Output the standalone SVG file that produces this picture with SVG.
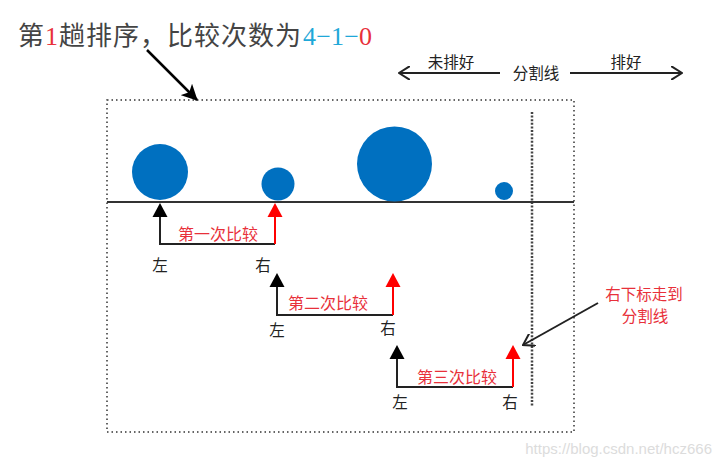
<svg xmlns="http://www.w3.org/2000/svg" width="722" height="467" viewBox="0 0 722 467">
<style>
.cjk{font-family:"Noto Sans CJK SC","Liberation Sans",sans-serif;}
.lbl{font-size:15.5px;fill:#222;}
.cmp{font-size:16px;fill:#E8303A;}
.note{font-size:15.5px;fill:#E8303A;}
.dot{fill:none;stroke:#333;stroke-width:1.5;stroke-dasharray:1.5 3;}
.blk{fill:none;stroke:#222;stroke-width:2;}
.rl{fill:none;stroke:#F00;stroke-width:2;}
.ball{fill:#0070C0;}
</style>
<defs>
<marker id="open" markerWidth="12" markerHeight="14" refX="11" refY="7" orient="auto" markerUnits="userSpaceOnUse" viewBox="0 0 12 14"><path d="M0,0 L11,7 L0,14" fill="none" stroke="#222" stroke-width="2"/></marker>
<marker id="bigB" markerWidth="16" markerHeight="16" refX="15" refY="8" orient="auto" markerUnits="userSpaceOnUse" viewBox="0 0 16 16"><path d="M0,0 L16,8 L0,16 L4,8 z" fill="#000"/></marker>
</defs>
<rect width="722" height="467" fill="#fff"/>

<g id="title">
<text x="18" y="45" font-size="26" class="cjk" fill="#444" textLength="283" lengthAdjust="spacing">第<tspan fill="#E8303A" font-family="Liberation Serif">1</tspan>趟排序，比较次数为</text>
<text x="303" y="45" font-size="26" font-family="Liberation Serif, serif" textLength="69" lengthAdjust="spacing"><tspan fill="#1FA8D8">4−1−</tspan><tspan fill="#E8303A">0</tspan></text>
</g>

<g id="frame">
<rect x="107" y="100" width="467" height="332" class="dot"/>
<line x1="532" y1="112" x2="532" y2="406" stroke="#444" stroke-width="2.5" stroke-dasharray="2 1.6"/>
<line x1="107" y1="202" x2="574" y2="202" stroke="#333" stroke-width="2"/>
</g>

<g id="balls">
<circle cx="160" cy="172" r="28" class="ball"/>
<circle cx="278" cy="184" r="16.5" class="ball"/>
<circle cx="394.5" cy="164" r="37.5" class="ball"/>
<circle cx="504" cy="191" r="9" class="ball"/>
</g>

<g id="legend">
<text x="451" y="68" text-anchor="middle" class="cjk lbl">未排好</text>
<text x="536" y="79" text-anchor="middle" class="cjk lbl">分割线</text>
<text x="626" y="68" text-anchor="middle" class="cjk lbl">排好</text>
</g>

<g id="cmp1">
<text x="218" y="240" text-anchor="middle" class="cjk cmp">第一次比较</text>
<text x="160" y="271" text-anchor="middle" class="cjk lbl">左</text>
<text x="263" y="271" text-anchor="middle" class="cjk lbl">右</text>
</g>
<g id="cmp2">
<text x="328" y="309" text-anchor="middle" class="cjk cmp">第二次比较</text>
<text x="277" y="336" text-anchor="middle" class="cjk lbl">左</text>
<text x="388" y="334" text-anchor="middle" class="cjk lbl">右</text>
</g>
<g id="cmp3">
<text x="457" y="383" text-anchor="middle" class="cjk cmp">第三次比较</text>
<text x="400" y="408" text-anchor="middle" class="cjk lbl">左</text>
<text x="510" y="408" text-anchor="middle" class="cjk lbl">右</text>
</g>

<g id="note">
<text x="644" y="300" text-anchor="middle" class="cjk note">右下标走到</text>
<text x="645" y="322" text-anchor="middle" class="cjk note">分割线</text>
</g>

<g id="connectors">
<line x1="147" y1="50" x2="197" y2="100" stroke="#000" stroke-width="2.5" marker-end="url(#bigB)"/>
<line x1="500" y1="73" x2="399" y2="73" stroke="#222" stroke-width="2" marker-end="url(#open)"/>
<line x1="570" y1="73" x2="682" y2="73" stroke="#222" stroke-width="2" marker-end="url(#open)"/>
<line x1="598" y1="303" x2="523" y2="345" stroke="#222" stroke-width="2" marker-end="url(#open)"/>

<polyline points="160,215 160,244 275,244" class="blk"/>
<polygon points="160,203 152.5,217 167.5,217" fill="#000"/>
<line x1="275" y1="244" x2="275" y2="215" class="rl"/>
<polygon points="275,203 267.5,217 282.5,217" fill="#F00"/>

<polyline points="277,285 277,315 393,315" class="blk"/>
<polygon points="277,273 269.5,287 284.5,287" fill="#000"/>
<line x1="393" y1="315" x2="393" y2="285" class="rl"/>
<polygon points="393,273 385.5,287 400.5,287" fill="#F00"/>

<polyline points="397,357 397,387 513,387" class="blk"/>
<polygon points="397,345 389.5,359 404.5,359" fill="#000"/>
<line x1="513" y1="387" x2="513" y2="357" class="rl"/>
<polygon points="513,345 505.5,359 520.5,359" fill="#F00"/>
</g>

<text x="712" y="454" text-anchor="end" font-family="Liberation Sans, sans-serif" font-size="15" fill="#DCDCDC">https://blog.csdn.net/hcz666</text>
</svg>
